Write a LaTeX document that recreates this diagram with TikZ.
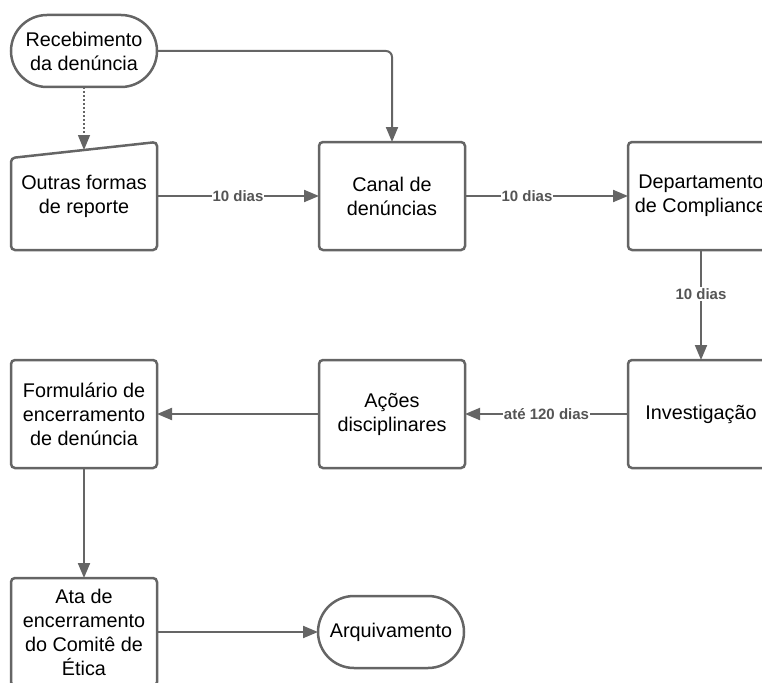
\documentclass[tikz,border=0pt]{standalone}
\usepackage{fontspec}
\setmainfont{Liberation Sans}
\usetikzlibrary{positioning, arrows.meta, calc}

\definecolor{linegray}{HTML}{656565}
\definecolor{labelgray}{HTML}{555555}

\tikzset{
	box/.style={rectangle, draw=linegray, line width=2.5pt, rounded corners=4pt,
		minimum width=146pt, minimum height=108pt, align=center, outer sep=0pt,
		font=\fontsize{19.8}{24}\selectfont},
	terminal/.style={box, rounded corners=36pt, minimum height=72pt},
	manual/.style={box, draw=none},
	flow/.style={draw=linegray, line width=2pt, -{Triangle[length=15pt,width=12pt]}},
	dias/.style={fill=white, text=labelgray, inner sep=1pt,
		font=\fontsize{15}{18}\selectfont\bfseries},
}

\begin{document}
\begin{tikzpicture}[x=1pt, y=-1pt, node distance=110pt and 162pt]
	\useasboundingbox (0,0) rectangle (762,682);
	\clip (0,0) rectangle (762,682);

	\node[manual] (outras) at (84,196) {Outras formas\\de reporte};
	\node[terminal, above=55pt of outras] (receb) {Recebimento\\da denúncia};
	\node[box, right=of outras] (canal) {Canal de\\denúncias};
	\node[box, right=163pt of canal] (dept) {Departamento\\de Compliance};
	\node[box, below=of dept] (invest) {Investigação};
	\node[box, below=of canal] (acoes) {Ações\\disciplinares};
	\node[box, below=of outras] (form) {Formulário de\\encerramento\\de denúncia};
	\node[box, below=of form] (ata) {Ata de\\encerramento\\do Comitê de\\Ética};
	\node[terminal, right=161pt of ata] (arquiv) {Arquivamento};

	% entrada manual: topo inclinado
	\coordinate (slant) at ($(outras.north west)+(0,16)$);
	\coordinate (topo) at ($(slant)!0.5!(outras.north east)$);
	\draw[draw=linegray, line width=2.5pt, rounded corners=4pt]
		(outras.south west) -- (outras.south east) -- (outras.north east) -- (slant) -- cycle;

	\draw[flow, rounded corners=6pt] (receb.east) -| (canal.north);
	\draw[flow, dotted, line width=1.5pt] (receb.south) -- (topo);
	\draw[flow] (outras) -- node[dias]{10 dias} (canal);
	\draw[flow] (canal) -- node[dias, pos=0.38]{10 dias} (dept);
	\draw[flow] (dept) -- node[dias, pos=0.4]{10 dias} (invest);
	\draw[flow] (invest) -- node[dias]{até 120 dias} (acoes);
	\draw[flow] (acoes) -- (form);
	\draw[flow] (form) -- (ata);
	\draw[flow] (ata) -- (arquiv);

\end{tikzpicture}
\end{document}
